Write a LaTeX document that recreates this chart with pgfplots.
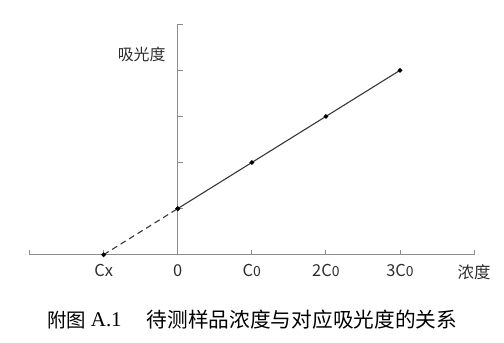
\documentclass[border=0pt]{standalone}
\usepackage{fontspec}
\setmainfont{Liberation Serif}
\newfontfamily\cjk{Noto Sans CJK SC}
\usepackage{pgfplots}
\pgfplotsset{compat=1.18}
\definecolor{axgray}{RGB}{140,140,140}
\definecolor{linegray}{RGB}{55,55,55}
\definecolor{txt}{RGB}{45,45,45}
\newcommand{\sz}{\fontsize{14}{14}\selectfont}
\begin{document}
\begin{tikzpicture}
\begin{axis}[
 x=74.1bp, y=46.1bp,
 xmin=-2, xmax=4, ymin=0, ymax=5,
 axis lines=middle,
 axis line style={-, color=axgray, line width=1.1bp},
 xtick={-2,-1,0,1,2,3,4},
 xticklabels={,{Cx},{0},{C{\sz 0}},{2C{\sz 0}},{3C{\sz 0}},{浓度}},
 ytick={1,2,3,4,5},
 yticklabels={},
 tick align=inside,
 major tick length=5bp,
 tick style={color=axgray, line width=1bp},
 hide obscured x ticks=false,
 hide obscured y ticks=false,
 xticklabel style={font=\cjk\fontsize{16.5}{16.5}\selectfont, text=txt, anchor=north, yshift=-6bp},
 clip=false,
]
\path (axis cs:-2.398,-1.894) rectangle (axis cs:4.403,5.525);
\addplot[linegray, line width=1.1bp, dash pattern=on 6bp off 4bp, mark=*, mark size=1.7bp, mark options={solid, fill=black, draw=black}] coordinates {(-1,0) (0,1)};
\addplot[linegray, line width=1.1bp, mark=*, mark size=1.7bp, mark options={fill=black, draw=black}] coordinates {(0,1) (1,2) (2,3) (3,4)};
\node[font=\cjk\fontsize{16}{16}\selectfont, text=txt] at (axis cs:-0.486,4.35) {吸光度};
\node[anchor=west, inner sep=0pt, font=\cjk\fontsize{19.5}{19.5}\selectfont, text=black] at (axis cs:-1.764,-1.416) {附图};
\node[anchor=west, inner sep=0pt, font=\fontsize{21}{21}\selectfont, text=black] at (axis cs:-1.174,-1.416) {A.1};
\node[anchor=west, inner sep=0pt, font=\cjk\fontsize{20.75}{20.75}\selectfont, text=black] at (axis cs:-0.418,-1.416) {待测样品浓度与对应吸光度的关系};
\end{axis}
\end{tikzpicture}
\end{document}
